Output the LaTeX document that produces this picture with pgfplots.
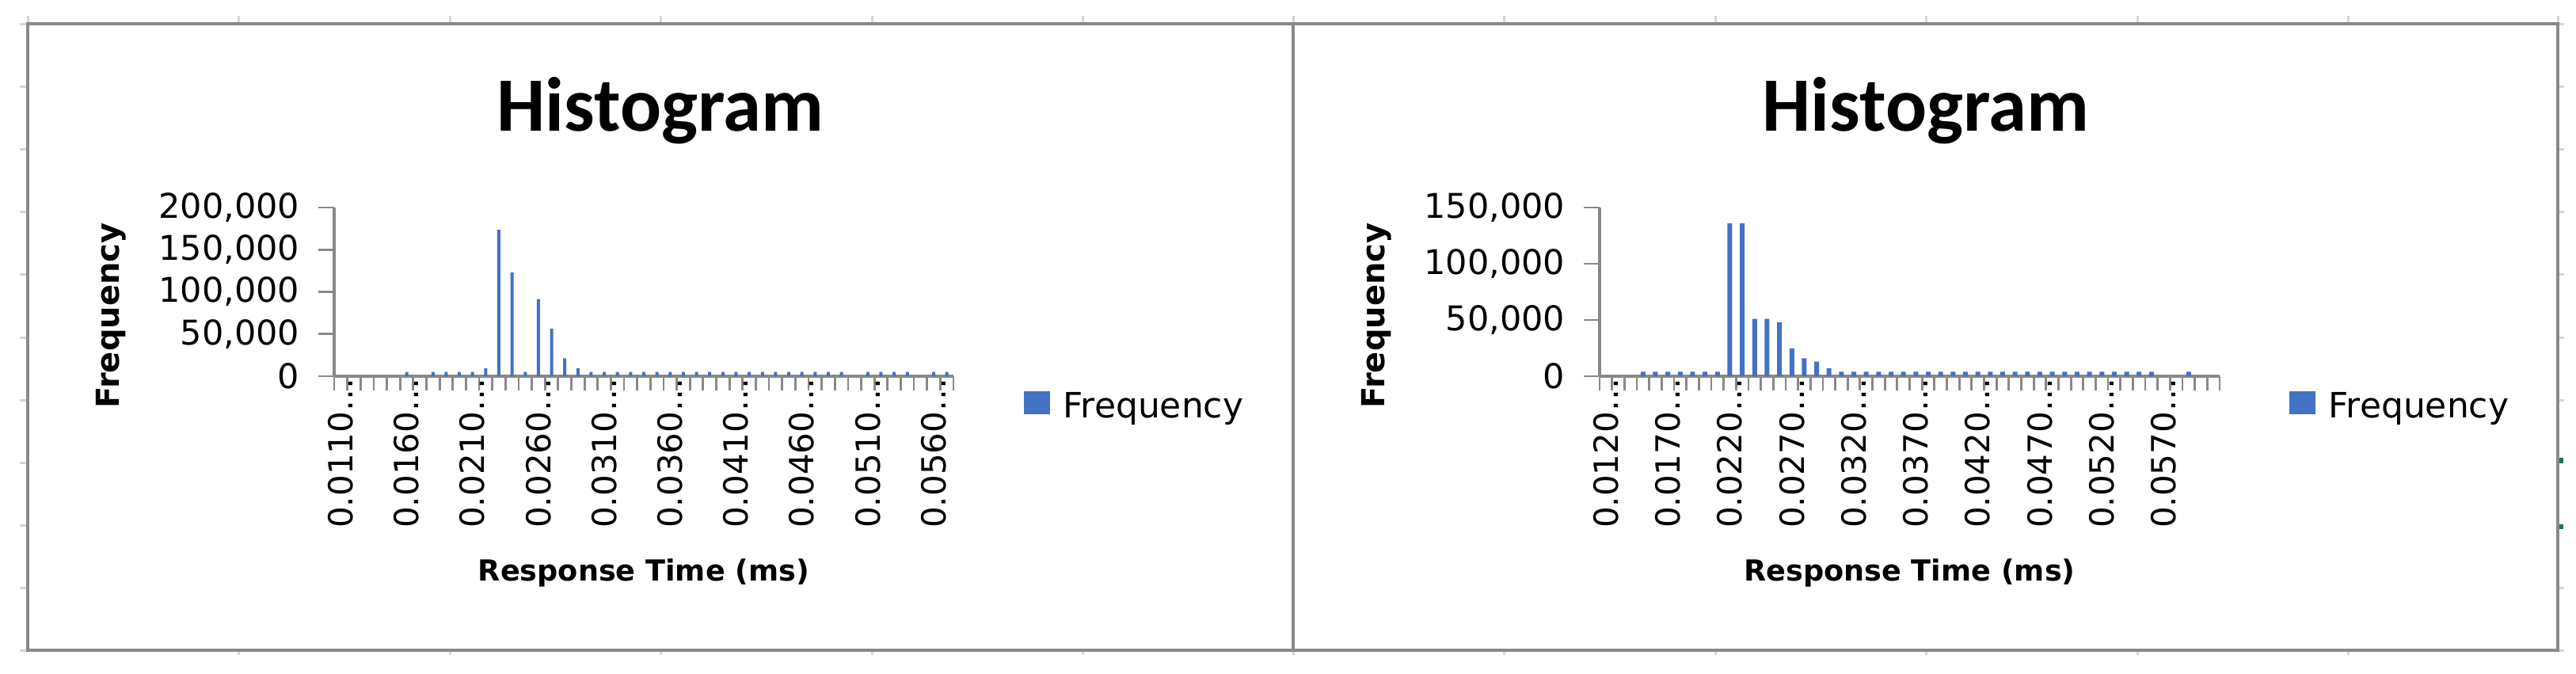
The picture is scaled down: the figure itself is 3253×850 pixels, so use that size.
\documentclass[border=0pt]{standalone}
\usepackage{fontspec}
\setmainfont{DejaVu Sans}
\newfontfamily\titlefont{Carlito}
\usepackage{pgfplots}
\usepackage{pgfplotstable}
\pgfplotsset{compat=1.18}

\definecolor{barblue}{HTML}{4472C4}
\definecolor{axgray}{RGB}{137,137,137}
\definecolor{stubgray}{RGB}{214,214,214}
\definecolor{selgreen}{HTML}{217346}

% left chart: bins 0.0110 ... 0.0560 and More
\pgfplotstableread{
i f
0 0
1 0
2 0
3 0
4 0
5 5000
6 0
7 5000
8 5000
9 5000
10 5000
11 9400
12 173700
13 122900
14 5000
15 91500
16 56400
17 21300
18 9400
19 5000
20 5000
21 5000
22 5000
23 5000
24 5000
25 5000
26 5000
27 5000
28 5000
29 5000
30 5000
31 5000
32 5000
33 5000
34 5000
35 5000
36 5000
37 5000
38 5000
39 0
40 5000
41 5000
42 5000
43 5000
44 0
45 5000
46 5000
}\lefttab

% right chart: bins 0.0120 ... 0.0600 and More
\pgfplotstableread{
i f
0 0
1 0
2 0
3 4000
4 4000
5 4000
6 4000
7 4000
8 4000
9 4000
10 136100
11 136100
12 51000
13 51000
14 48000
15 24700
16 16000
17 12900
18 7100
19 4000
20 4000
21 4000
22 4000
23 4000
24 4000
25 4000
26 4000
27 4000
28 4000
29 4000
30 4000
31 4000
32 4000
33 4000
34 4000
35 4000
36 4000
37 4000
38 4000
39 4000
40 4000
41 4000
42 4000
43 4000
44 4000
45 0
46 0
47 4000
48 0
49 0
}\righttab

\pgfplotsset{
  histo/.style={
    scale only axis, height=53.25pt,
    anchor=south west,
    axis x line*=bottom, axis y line*=left,
    ybar, ymin=0, enlargelimits=false, clip=false,
    axis line style={axgray, line width=0.85pt},
    tick align=outside,
    major tick length=5pt, minor tick length=4.5pt,
    major x tick style={draw=none},
    minor x tick style={axgray, line width=0.7pt},
    y tick style={axgray, line width=0.7pt},
    scaled y ticks=false,
    xticklabel shift=-4.5pt,
    yticklabel shift=5.75pt,
    xticklabel style={rotate=90, anchor=east, inner sep=0pt,
      font=\fontsize{10.5}{12}\selectfont},
    yticklabel style={inner sep=0pt, font=\fontsize{10.75}{12}\selectfont},
  },
}

\begin{document}
\begin{tikzpicture}[x=0.25pt, y=0.25pt]
\path[use as bounding box] (0,0) rectangle (3253,850);

% faint sheet gridline stubs round the frame
\foreach \c in {35,301.5,568,834.5,1101,1367.5,1633,1899.5,2166,2432.5,2699,2965.5,3230}
  \draw[stubgray, line width=0.75pt] (\c,820) -- (\c,830);
\foreach \c in {301.5,568,834.5,1101,1367.5,1633,1899.5,2166,2432.5,2699,2965.5}
  \draw[stubgray, line width=0.75pt] (\c,29) -- (\c,23);
\foreach \r in {30,109,188,267,346,426,505,584,663,742,821}
  \draw[stubgray, line width=0.75pt] (25,850-\r) -- (35,850-\r);
\foreach \r in {30,109,188,267,346,426,505,742,821}
  \draw[stubgray, line width=0.75pt] (3230,850-\r) -- (3238,850-\r);
\fill[selgreen] (3231,265) rectangle (3237,272);
\fill[selgreen] (3231,182) rectangle (3237,188);

% chart frames
\draw[axgray, line width=1.1pt] (35,29) rectangle (3230,820);
\draw[axgray, line width=1.1pt] (1633,29) -- (1633,820);

% left histogram
\begin{axis}[histo, at={(105.5pt,93.75pt)}, width=195.5pt,
    bar width=1pt, xmin=-0.5, xmax=46.5, ymax=200000,
    xtick={0,5,...,45},
    xticklabels={0.0110…,0.0160…,0.0210…,0.0260…,0.0310…,0.0360…,0.0410…,0.0460…,0.0510…,0.0560…},
    minor xtick={-0.5,0.5,...,46.5},
    ytick={0,50000,100000,150000,200000},
    yticklabels={0,{50,000},{100,000},{150,000},{200,000}}]
  \addplot[fill=barblue, draw=none] table[x=i, y=f] {\lefttab};
\end{axis}

% right histogram
\begin{axis}[histo, at={(505pt,93.75pt)}, width=195.75pt,
    bar width=1.5pt, xmin=-0.5, xmax=49.5, ymax=150000,
    xtick={0,5,...,45},
    xticklabels={0.0120…,0.0170…,0.0220…,0.0270…,0.0320…,0.0370…,0.0420…,0.0470…,0.0520…,0.0570…},
    minor xtick={-0.5,0.5,...,49.5},
    ytick={0,50000,100000,150000},
    yticklabels={0,{50,000},{100,000},{150,000}}]
  \addplot[fill=barblue, draw=none] table[x=i, y=f] {\righttab};
\end{axis}

% titles, axis titles and legends
\foreach \dx/\ax in {0/813, 1598/2411.5} {
  \node[anchor=base, inner sep=0pt, font=\titlefont\bfseries\fontsize{24.25}{29}\selectfont]
    at (834+\dx,685) {Histogram};
  \node[anchor=base, inner sep=0pt, font=\bfseries\fontsize{9.15}{11}\selectfont]
    at (\ax,117) {Response Time (ms)};
  \node[rotate=90, anchor=base, inner sep=0pt, font=\bfseries\fontsize{10}{12}\selectfont]
    at (150+\dx,451.5) {Frequency};
  \fill[barblue] (1293+\dx,327) rectangle (1326+\dx,356);
  \node[anchor=base west, inner sep=0pt, font=\fontsize{11}{13}\selectfont]
    at (1342+\dx,323) {Frequency};
}
\end{tikzpicture}
\end{document}
